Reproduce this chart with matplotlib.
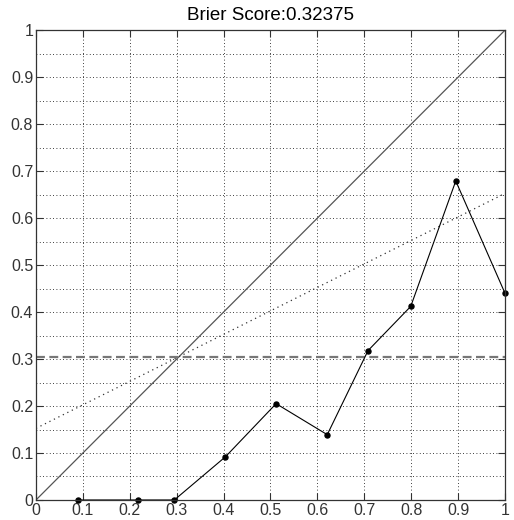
import numpy as np
import matplotlib.pyplot as plt
from matplotlib.ticker import MultipleLocator

plt.rcParams['font.family'] = ['Liberation Sans', 'DejaVu Sans']

# reliability diagram data
forecast_prob = [0.09, 0.218, 0.295, 0.404, 0.512, 0.621, 0.708, 0.799, 0.895, 1.0]
observed_freq = [0.0, 0.0, 0.0, 0.092, 0.205, 0.139, 0.318, 0.412, 0.679, 0.44]
climatology = 0.305
brier = 0.32375
tick_vals = [0, 0.1, 0.2, 0.3, 0.4, 0.5, 0.6, 0.7, 0.8, 0.9, 1]
tick_labels = ['0', '0.1', '0.2', '0.3', '0.4', '0.5', '0.6', '0.7', '0.8', '0.9', '1']

fig = plt.figure(figsize=(5.14, 5.20), dpi=100)
ax = fig.add_axes([0.070, 0.0385, 0.9125, 0.9035])

ends = np.array([0, 1])
ax.plot(ends, ends, color='#555555', lw=0.9)
# no-skill line halfway between perfect reliability and climatology
ax.plot(ends, (ends + climatology) / 2, color='#333333', lw=0.9, ls=(0, (1, 3)))
ax.axhline(climatology, color='#777777', lw=1.6, ls=(0, (4, 2)))
ax.plot(forecast_prob, observed_freq, color='black', lw=0.8, marker='o', ms=3.6, clip_on=False)

ax.set_xlim(0, 1)
ax.set_ylim(0, 1)
ax.set_xticks(tick_vals)
ax.set_xticklabels(tick_labels)
ax.set_yticks(tick_vals)
ax.set_yticklabels(tick_labels)
ax.yaxis.set_minor_locator(MultipleLocator(0.05))
ax.tick_params(which='major', direction='in', length=5, top=True, right=True,
               labelsize=11.5, labelcolor='#333333', color='#333333', pad=2)
ax.tick_params(which='minor', length=0)
ax.grid(True, which='major', color='black', lw=0.6, ls=(0, (1, 3)))
ax.grid(True, which='minor', axis='y', color='black', lw=0.6, ls=(0, (1, 3)))
ax.set_axisbelow(True)
for s in ax.spines.values():
    s.set_color('#333333')
    s.set_linewidth(0.9)

ax.set_title('Brier Score:{}'.format(brier), fontsize=13.5, pad=7)

fig.savefig('out.png', dpi=100)
